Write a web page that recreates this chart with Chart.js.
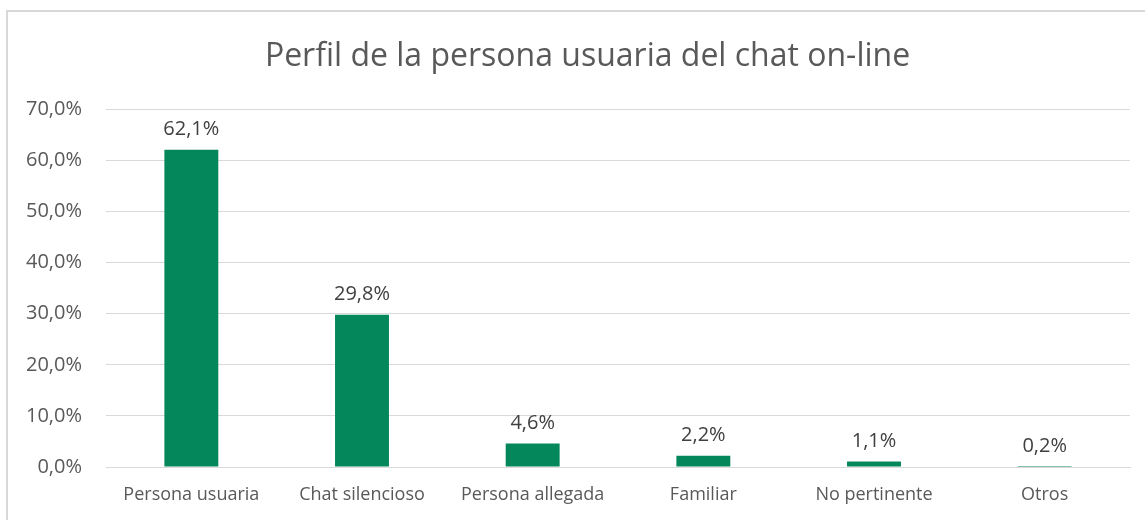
<!DOCTYPE html>
<html><head><meta charset="utf-8">
<script src="https://cdn.jsdelivr.net/npm/chart.js@4.4.1/dist/chart.umd.min.js"></script>
<style>
html,body{margin:0;padding:0;background:#fff;}
#wrap{position:absolute;left:0;top:0;width:1145px;height:520px;}
#frame{position:absolute;left:6px;top:10px;width:1150px;height:520px;border-left:2px solid #D9D9D9;border-top:2px solid #D9D9D9;box-sizing:border-box;}
canvas{position:absolute;left:0;top:0;}
</style></head>
<body>
<div id="wrap"><div id="frame"></div><canvas id="c" width="1145" height="520"></canvas></div>
<script>
const categories = ["Persona usuaria","Chat silencioso","Persona allegada","Familiar","No pertinente","Otros"];
const values = [62.1, 29.8, 4.6, 2.2, 1.1, 0.2];
const yTicks = [0,10,20,30,40,50,60,70];
const titleText = "Perfil de la persona usuaria del chat on-line";
const FONT = "'Open Sans', 'Liberation Sans', sans-serif";

const fmt = v => v.toFixed(1).replace('.', ',') + '%';

const labelPlugin = {
  id: 'barLabels',
  afterDatasetsDraw(chart) {
    const ctx = chart.ctx;
    const meta = chart.getDatasetMeta(0);
    ctx.save();
    ctx.font = "20px " + FONT;
    ctx.fillStyle = '#404040';
    ctx.textAlign = 'center';
    ctx.textBaseline = 'bottom';
    meta.data.forEach((bar, i) => {
      ctx.fillText(fmt(values[i]), bar.x, bar.y - 10);
    });
    ctx.restore();
  },
  afterDraw(chart) {
    const tb = chart.titleBlock;
    if (!tb) return;
    const ctx = chart.ctx;
    ctx.save();
    ctx.font = "32px " + FONT;
    ctx.fillStyle = '#595959';
    ctx.textAlign = 'center';
    ctx.textBaseline = 'middle';
    const pad = tb.options.padding;
    const cy = tb.top + 36 + 32 * 1.2 / 2 + 2;
    ctx.fillText(titleText, chart.width / 2 + 15, cy);
    ctx.restore();
  }
};

new Chart(document.getElementById('c'), {
  type: 'bar',
  data: {
    labels: categories,
    datasets: [{
      data: values,
      backgroundColor: '#04875B',
      borderWidth: 0,
      categoryPercentage: 1,
      barPercentage: 0.316
    }]
  },
  options: {
    responsive: false,
    animation: false,
    layout: { padding: { left: 0, right: 15, top: 0, bottom: 0 } },
    plugins: {
      legend: { display: false },
      tooltip: { enabled: false },
      title: {
        display: true,
        text: titleText,
        color: 'rgba(0,0,0,0)',
        font: { family: FONT, size: 32, weight: 'normal' },
        padding: { top: 36, bottom: 35 }
      }
    },
    scales: {
      x: {
        grid: { display: false, drawTicks: false },
        border: { display: true, color: '#D9D9D9', width: 1 },
        ticks: { color: '#595959', font: { family: FONT, size: 18 }, padding: 17, maxRotation: 0 },
        afterFit: s => { s.height = 53; }
      },
      y: {
        min: 0, max: 70,
        afterBuildTicks: s => { s.ticks = yTicks.map(v => ({ value: v })); },
        grid: { color: '#D9D9D9', lineWidth: 1, drawTicks: false },
        border: { display: false },
        ticks: { color: '#595959', font: { family: FONT, size: 20 }, padding: 24, callback: v => fmt(v) },
        afterFit: s => { s.width = 106; }
      }
    }
  },
  plugins: [labelPlugin]
});
</script>
</body></html>
